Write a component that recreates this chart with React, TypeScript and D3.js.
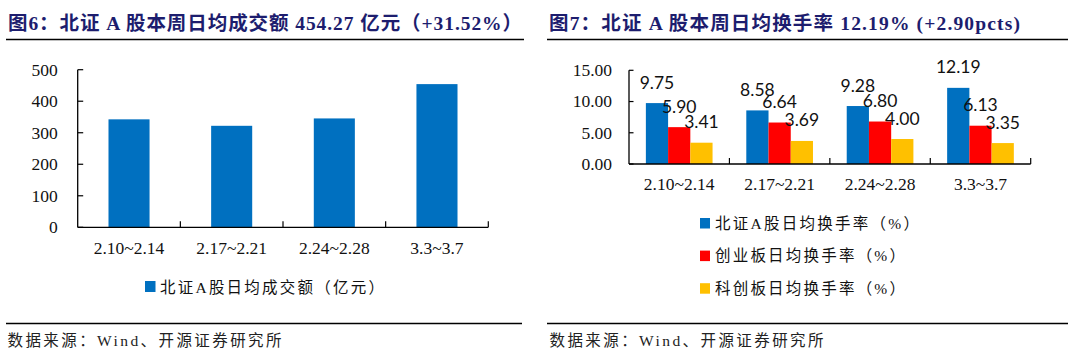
import React from "react";
import * as d3 from "d3";

const weeks = ["2.10~2.14", "2.17~2.21", "2.24~2.28", "3.3~3.7"];
const turnoverAmount = [342.5, 322, 345.4, 454.27];
const leftTicks = [0, 100, 200, 300, 400, 500];

const seriesNames = [
  "北证A股日均换手率（%）",
  "创业板日均换手率（%）",
  "科创板日均换手率（%）",
];
const bseRate = [9.75, 8.58, 9.28, 12.19];
const chinextRate = [5.9, 6.64, 6.8, 6.13];
const starRate = [3.41, 3.69, 4.0, 3.35];
const rightTicks = [0, 5, 10, 15];

const title1 = "图6：北证 A 股本周日均成交额 454.27 亿元（+31.52%）";
const title2 = "图7：北证 A 股本周日均换手率 12.19% (+2.90pcts)";
const legend1 = "北证A股日均成交额（亿元）";
const source = "数据来源：Wind、开源证券研究所";

const colors = ["#0070C0", "#FF0000", "#FFC000"];
const titleColor = "#1d1d6e";
const serif = "'Liberation Serif', 'Times New Roman', 'Noto Sans CJK SC', serif";
const cjk = "'Liberation Serif', 'Noto Sans CJK SC', serif";
const labelFont = "Lato, 'Open Sans', sans-serif";

function LeftChart() {
  const x0 = 77.7, x1 = 488.3;
  const x = d3.scaleBand<string>().domain(weeks).range([x0, x1]).paddingInner(0.6).paddingOuter(0.3);
  const y = d3.scaleLinear().domain([0, 500]).range([227.3, 69.7]);
  const step = x.step();
  return (
    <g>
      {weeks.map((w, i) => (
        <rect key={w} x={x(w)} y={y(turnoverAmount[i])} width={x.bandwidth()} height={y(0) - y(turnoverAmount[i])} fill={colors[0]} />
      ))}
      <line x1={x0} x2={x0} y1={y(500)} y2={y(0)} stroke="#000" strokeWidth={1.3} />
      <line x1={x0} x2={x1} y1={y(0)} y2={y(0)} stroke="#000" strokeWidth={1.3} />
      {leftTicks.map((t) => (
        <g key={t}>
          <line x1={x0} x2={x0 + 5.5} y1={y(t)} y2={y(t)} stroke="#000" strokeWidth={1.2} />
          <text x={x0 - 20} y={y(t)} dy="0.34em" textAnchor="end" fontFamily={serif} fontSize={17.5} fill="#111">{t}</text>
        </g>
      ))}
      {weeks.map((w) => {
        const bx = (x(w) as number) + x.bandwidth() / 2 + step / 2;
        return <line key={"t" + w} x1={bx} x2={bx} y1={y(0)} y2={y(0) - 6} stroke="#000" strokeWidth={1.2} />;
      })}
      {weeks.map((w) => (
        <text key={"l" + w} x={(x(w) as number) + x.bandwidth() / 2} y={254} textAnchor="middle" fontFamily={serif} fontSize={17.5} fill="#111">{w}</text>
      ))}
      <rect x={145} y={281} width={10.5} height={11} fill={colors[0]} />
      <text x={160} y={292.5} fontFamily={cjk} fontSize={15.5} fill="#111" textLength={224} lengthAdjust="spacing">{legend1}</text>
    </g>
  );
}

function RightChart() {
  const x0 = 629, x1 = 1030.7;
  const x = d3.scaleBand<string>().domain(weeks).range([x0, x1]).paddingInner(0.336).paddingOuter(0.168);
  const inner = d3.scaleBand<number>().domain([0, 1, 2]).range([0, x.bandwidth()]).padding(0);
  const y = d3.scaleLinear().domain([0, 15]).range([164, 70.3]);
  const step = x.step();
  const series = [bseRate, chinextRate, starRate];
  return (
    <g>
      {series.map((s, si) =>
        weeks.map((w, i) => (
          <rect key={si + w} x={(x(w) as number) + (inner(si) as number)} y={y(s[i])} width={inner.bandwidth()} height={y(0) - y(s[i])} fill={colors[si]} />
        ))
      )}
      <line x1={x0} x2={x0} y1={y(15)} y2={y(0)} stroke="#000" strokeWidth={1.3} />
      <line x1={x0} x2={x1} y1={y(0)} y2={y(0)} stroke="#000" strokeWidth={1.3} />
      {rightTicks.map((t) => (
        <g key={t}>
          <line x1={x0} x2={x0 + 4.5} y1={y(t)} y2={y(t)} stroke="#000" strokeWidth={1.2} />
          <text x={x0 - 17} y={y(t)} dy="0.34em" textAnchor="end" fontFamily={serif} fontSize={17.5} fill="#111">{t.toFixed(2)}</text>
        </g>
      ))}
      {weeks.map((w) => {
        const bx = (x(w) as number) + x.bandwidth() / 2 + step / 2;
        return <line key={"t" + w} x1={bx} x2={bx} y1={y(0)} y2={y(0) - 6} stroke="#000" strokeWidth={1.2} />;
      })}
      {weeks.map((w) => (
        <text key={"l" + w} x={(x(w) as number) + x.bandwidth() / 2} y={190} textAnchor="middle" fontFamily={serif} fontSize={17.5} fill="#111">{w}</text>
      ))}
      {series.map((s, si) =>
        weeks.map((w, i) => (
          <text key={"d" + si + w} x={(x(w) as number) + (inner(si) as number) + inner.bandwidth() / 2} y={y(s[i]) - 14.5} textAnchor="middle" fontFamily={labelFont} fontSize={17.5} fill="#111">{s[i].toFixed(2)}</text>
        ))
      )}
      {seriesNames.map((n, i) => (
        <g key={n}>
          <rect x={700} y={218 + i * 32.6} width={10} height={10.5} fill={colors[i]} />
          <text x={715} y={228.5 + i * 32.6} fontFamily={cjk} fontSize={15.5} fill="#111" textLength={i === 0 ? 204 : 190} lengthAdjust="spacing">{n}</text>
        </g>
      ))}
    </g>
  );
}

export default function App() {
  return (
    <svg width={1073} height={359} style={{ position: "absolute", left: 0, top: 0, background: "#fff" }}>
      <rect x={0} y={0} width={1073} height={359} fill="#fff" />
      <text x={8} y={30} fontFamily={cjk} fontWeight="bold" fontSize={19.5} fill={titleColor} textLength={514} lengthAdjust="spacing">{title1}</text>
      <line x1={6} x2={524} y1={39.5} y2={39.5} stroke="#000" strokeWidth={1.5} />
      <text x={549} y={30} fontFamily={cjk} fontWeight="bold" fontSize={19.5} fill={titleColor} textLength={471} lengthAdjust="spacing">{title2}</text>
      <line x1={547} x2={1068} y1={39.5} y2={39.5} stroke="#000" strokeWidth={1.5} />
      <LeftChart />
      <RightChart />
      <line x1={6} x2={522} y1={323.5} y2={323.5} stroke="#000" strokeWidth={1.3} />
      <line x1={547} x2={1068} y1={323.5} y2={323.5} stroke="#000" strokeWidth={1.3} />
      <text x={7.5} y={346} fontFamily={cjk} fontSize={15.5} fill="#222" textLength={274} lengthAdjust="spacing">{source}</text>
      <text x={549.5} y={346} fontFamily={cjk} fontSize={15.5} fill="#222" textLength={274} lengthAdjust="spacing">{source}</text>
    </svg>
  );
}
